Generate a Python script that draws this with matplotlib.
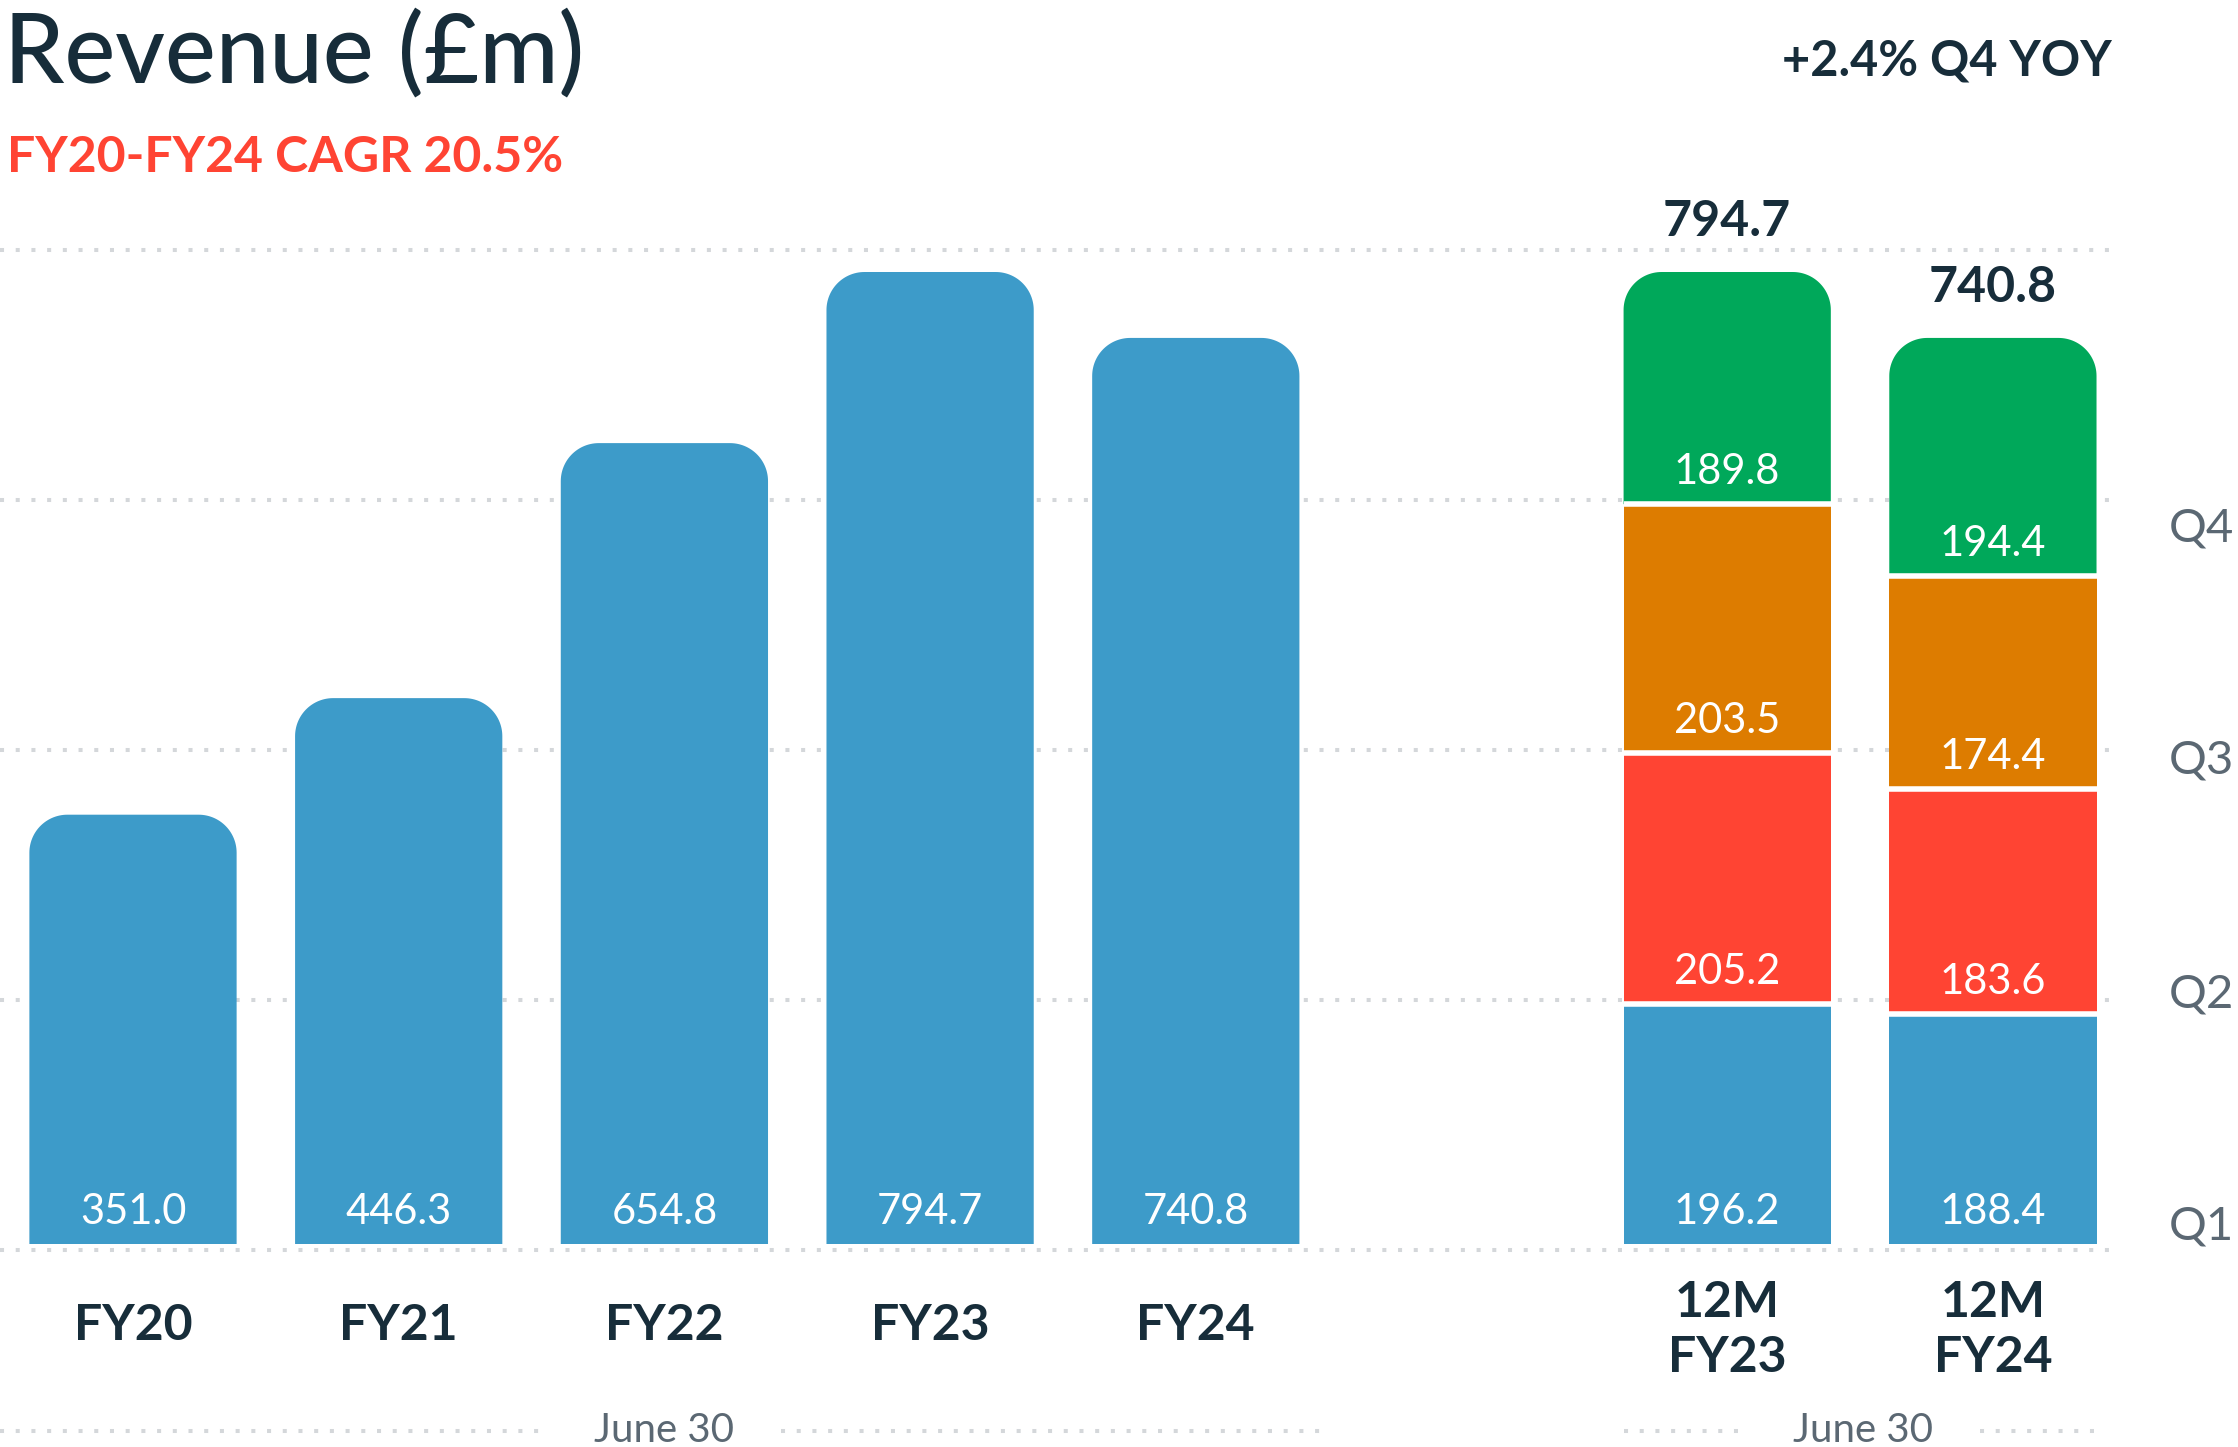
import numpy as np
import matplotlib
matplotlib.use("Agg")
import matplotlib.pyplot as plt
from matplotlib.patches import Polygon

plt.rcParams['font.family'] = ['Lato', 'DejaVu Sans']

# --- data -------------------------------------------------------------
years = ['FY20', 'FY21', 'FY22', 'FY23', 'FY24']
revenue = [351.0, 446.3, 654.8, 794.7, 740.8]

periods = ['12M\nFY23', '12M\nFY24']
q1 = [196.2, 188.4]
q2 = [205.2, 183.6]
q3 = [203.5, 174.4]
q4 = [189.8, 194.4]
period_totals = [794.7, 740.8]
quarter_names = ['Q1', 'Q2', 'Q3', 'Q4']

title = 'Revenue (£m)'
subtitle = 'FY20-FY24 CAGR 20.5%'
yoy_note = '+2.4% Q4 YOY'
date_note = 'June 30'

# --- style ------------------------------------------------------------
BLUE = '#3d9bc9'
RED = '#ff4433'
ORANGE = '#dd7c00'
GREEN = '#00a85a'
DARK = '#172d3a'
GREY = '#5b6873'
GRID = '#d4d7da'
quarter_colors = [BLUE, RED, ORANGE, GREEN]

W, H = 2238, 1447
SX = 265.7      # pixels per category slot
SY = 1.2231     # pixels per £m
X0, Y0 = 133, 1244  # pixel position of first slot centre / zero line
BAR_W = 0.78

fig = plt.figure(figsize=(W / 100, H / 100), dpi=100)
ax = fig.add_axes([0, 0, 1, 1])
ax.set_xlim(-X0 / SX, (W - X0) / SX)
ax.set_ylim((Y0 - H) / SY, Y0 / SY)
ax.axis('off')


def py(pix):
    # pixel row -> data y
    return (Y0 - pix) / SY


def rounded_bar(x, bottom, height, color, r_px=38):
    rx, ry = r_px / SX, r_px / SY
    left, right, top = x - BAR_W / 2, x + BAR_W / 2, bottom + height
    t = np.linspace(0, np.pi / 2, 30)
    pts = [(left, bottom), (right, bottom)]
    pts += list(zip(right - rx + rx * np.cos(t), top - ry + ry * np.sin(t)))
    pts += list(zip(left + rx - rx * np.sin(t), top - ry + ry * np.cos(t)))
    ax.add_patch(Polygon(pts, closed=True, facecolor=color, edgecolor='none', zorder=2))


# dotted gridlines
grid_vals = np.linspace(py(1250), py(250), 5)
ax.hlines(grid_vals, -X0 / SX, (2117 - X0) / SX, colors=GRID, lw=2.9,
          linestyles=(0, (1, 2.9)), zorder=0)

LBL = 26   # value label offset above segment bottom

# annual bars
x_years = np.arange(len(years))
for x, v in zip(x_years, revenue):
    rounded_bar(x, 0, v, BLUE)
    ax.text(x, LBL, f'{v:.1f}', ha='center', va='center', color='white',
            fontsize=30, zorder=3)
    ax.text(x, py(1326), years[x], ha='center', va='center', color=DARK,
            fontsize=36, fontweight='bold')

# quarterly stacked bars
x_periods = np.arange(len(periods)) + len(years) + 1
stack = np.array([q1, q2, q3, q4])
for j, x in enumerate(x_periods):
    bottom = 0
    for k in range(4):
        v = stack[k, j]
        if k == 3:
            rounded_bar(x, bottom, v, quarter_colors[k])
        else:
            ax.bar(x, v, BAR_W, bottom=bottom, color=quarter_colors[k], zorder=2)
        ax.text(x, bottom + LBL, f'{v:.1f}', ha='center', va='center', color='white',
                fontsize=30, zorder=3)
        if k > 0:
            ax.plot([x - BAR_W / 2, x + BAR_W / 2], [bottom, bottom], color='white',
                    lw=4, solid_capstyle='butt', zorder=3)
        bottom += v
    ax.text(x, period_totals[j] + 41, f'{period_totals[j]:.1f}', ha='center',
            va='center', color=DARK, fontsize=36, fontweight='bold')
    ax.text(x, py(1330), periods[j], ha='center', va='center', color=DARK,
            fontsize=36, fontweight='bold', linespacing=1.25)

# quarter labels on the right
for name, y in zip(quarter_names, np.linspace(py(1227), py(528), 4)):
    ax.text((2234 - X0) / SX, y, name, ha='right', va='center', color=GREY,
            fontsize=34)

# "June 30" group brackets
y_note = py(1431)
for left, right in [(-X0 / SX, x_years[-1] + BAR_W / 2 + 0.1),
                    (x_periods[0] - BAR_W / 2, x_periods[-1] + BAR_W / 2 + 0.02)]:
    mid = (left + right) / 2 if left > 0 else (x_years[0] + x_years[-1]) / 2
    ax.text(mid, y_note, date_note, ha='center', va='center', color=GREY, fontsize=29)
    ax.hlines([y_note, y_note], [left, mid + 0.44], [mid - 0.44, right], colors=GRID,
              lw=2.9, linestyles=(0, (1, 2.9)))

# titles
fig.text(4 / W, 1 - 83 / H, title, ha='left', va='baseline', color=DARK,
         fontsize=69, fontweight='medium')
fig.text(7 / W, 1 - 172 / H, subtitle, ha='left', va='baseline', color=RED,
         fontsize=36, fontweight='bold')
fig.text(2112 / W, 1 - 75 / H, yoy_note, ha='right', va='baseline', color=DARK,
         fontsize=35, fontweight='bold')

fig.savefig('out.png', dpi=100, facecolor='white')
